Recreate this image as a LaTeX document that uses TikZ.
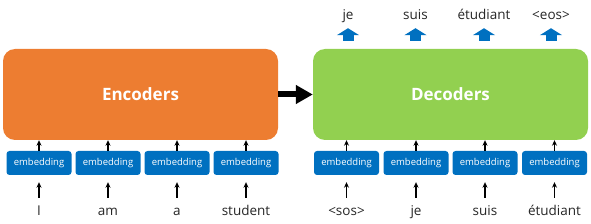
\documentclass[tikz,border=0pt]{standalone}
\usepackage{fontspec}
\setmainfont{Open Sans}
\usepackage{tikz}
\usetikzlibrary{arrows.meta, positioning, calc}
\usepackage{xcolor}
\definecolor{encorange}{HTML}{ED7D31}
\definecolor{decgreen}{HTML}{92D050}
\definecolor{embblue}{HTML}{0070C0}

\begin{document}
\begin{tikzpicture}[x=1pt, y=-1pt]
  \tikzset{block/.style={rectangle, rounded corners=12pt, inner sep=0pt,
                         minimum width=275pt, minimum height=91pt,
                         font=\fontsize{17}{17}\selectfont\bfseries, text=white}}
  \tikzset{emb/.style={rectangle, fill=embblue, rounded corners=3pt, inner sep=0pt,
                       minimum width=65pt, minimum height=24pt,
                       font=\fontsize{9.5}{9.5}\selectfont, text=white}}
  \tikzset{word/.style={inner sep=0pt, text height=10pt, text depth=3pt,
                        font=\fontsize{13.5}{13.5}\selectfont, text=black!85}}
  \tikzset{inarrow/.style={-{Stealth[length=5.5pt, width=5pt]}, line width=1.2pt}}
  \tikzset{outarrow/.style={draw=embblue, line width=11pt,
                            -{Triangle[width=22pt, length=7pt]}}}
  \useasboundingbox (0,0) rectangle (591,224);

  % Encoder and decoder stacks
  \node[block, fill=encorange] (enc) at (140.5, 94.5) {Encoders};
  \node[block, fill=decgreen]  (dec) at (450.5, 94.5) {Decoders};
  \draw[line width=6pt, -{Triangle[width=18pt, length=17pt]}] (enc.east) -- (dec.west);

  % Source sentence
  \foreach \w/\x [count=\i] in {I/39, am/108, a/177, student/246}{
    \node[emb] (ee\i) at (\x, 163) {embedding};
    \node[word, anchor=base] (ew\i) at (\x, 215) {\w};
    \draw[inarrow, shorten <=7pt, shorten >=7pt] (ew\i.north) -- (ee\i.south);
    \draw[inarrow] (ee\i.north) -- (ee\i.north |- enc.south);
  }

  % Target sentence (shifted right)
  \foreach \w/\x [count=\i] in {{<}sos{>}/346.5, je/416, suis/485, étudiant/554.5}{
    \node[emb] (de\i) at (\x, 163) {embedding};
    \node[word, anchor=base] (dw\i) at (\x, 215) {\w};
    \draw[inarrow, shorten <=7pt, shorten >=7pt] (dw\i.north) -- (de\i.south);
    \draw[inarrow] (de\i.north) -- (de\i.north |- dec.south);
  }

  % Predicted outputs
  \foreach \w/\x [count=\i] in {je/348, suis/415.5, étudiant/484, {<}eos{>}/551}{
    \node[word, anchor=base] (ow\i) at (\x, 20) {\w};
    \draw[outarrow, shorten <=8pt, shorten >=5pt] (ow\i |- dec.north) -- (ow\i.south);
  }
\end{tikzpicture}
\end{document}
